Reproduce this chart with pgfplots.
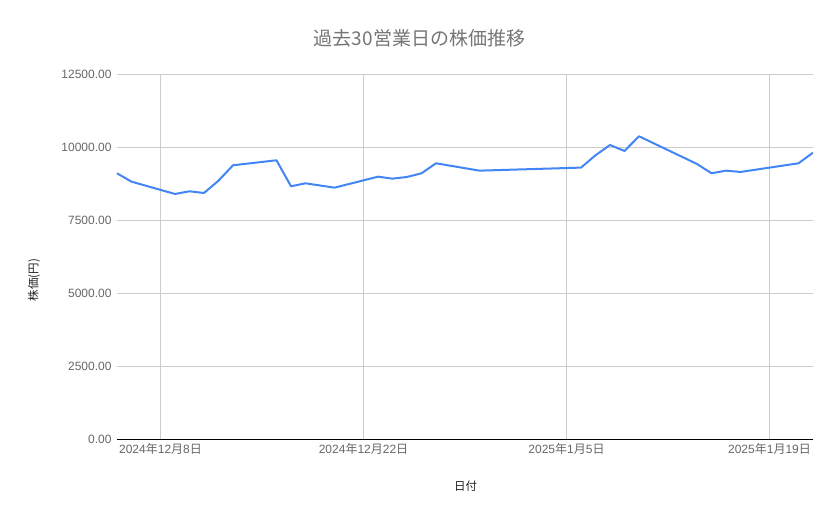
\documentclass[border=0pt]{standalone}
\usepackage{fontspec}
\setmainfont{Liberation Sans}
\newfontfamily\jp{Noto Sans CJK JP}
\usepackage{pgfplots}
\usepackage{pgfplotstable}
\pgfplotsset{compat=1.18}

\definecolor{lineblue}{HTML}{4285F4}
\definecolor{titlegray}{HTML}{757575}
\definecolor{tickgray}{HTML}{666666}
\definecolor{labeldark}{HTML}{222222}
\definecolor{gridgray}{HTML}{CCCCCC}

% day = days after 2024-12-08
\pgfplotstableread{
day price
-3 9100
-2 8813
1 8391
2 8483
3 8425
4 8847
5 9374
8 9545
9 8655
10 8757
12 8607
15 8984
16 8916
17 8974
18 9100
19 9442
22 9190
29 9294
30 9716
31 10069
32 9864
33 10367
37 9419
38 9100
39 9190
40 9145
44 9442
45 9806
}\prices

\begin{document}
\begin{tikzpicture}
\useasboundingbox (-117bp,-80bp) rectangle (722bp,439bp);
\begin{axis}[
    scale only axis,
    width=696bp, height=365bp,
    xmin=-3, xmax=45,
    ymin=0, ymax=12500,
    xtick={0,14,28,42},
    xticklabels={2024{\jp 年}12{\jp 月}8{\jp 日},2024{\jp 年}12{\jp 月}22{\jp 日},2025{\jp 年}1{\jp 月}5{\jp 日},2025{\jp 年}1{\jp 月}19{\jp 日}},
    ytick={0,2500,5000,7500,10000,12500},
    scaled y ticks=false,
    yticklabel={\pgfmathprintnumber[fixed,fixed zerofill,precision=2,1000 sep={}]{\tick}},
    /pgf/number format/assume math mode=true,
    tick style={draw=none},
    grid=major,
    major grid style={gridgray, line width=0.8bp},
    axis x line*=bottom,
    axis y line*=left,
    x axis line style={black, line width=0.9bp, -},
    y axis line style={draw=none},
    ticklabel style={font=\fontsize{12bp}{14bp}\selectfont, text=tickgray},
    yticklabel style={xshift=-2bp},
    xticklabel style={yshift=-1bp},
]
\addplot[lineblue, line width=2bp, line join=round] table[x=day, y=price] {\prices};
\end{axis}
\node[text=titlegray, font=\jp\fontsize{19bp}{23bp}\selectfont] at (302.5bp,401bp) {過去30営業日の株価推移};
\node[text=labeldark, font=\jp\fontsize{11.5bp}{14bp}\selectfont] at (348.5bp,-47bp) {日付};
\node[text=labeldark, rotate=90, font=\jp\fontsize{11.5bp}{14bp}\selectfont] at (-83bp,159bp) {株価(円)};
\end{tikzpicture}
\end{document}
